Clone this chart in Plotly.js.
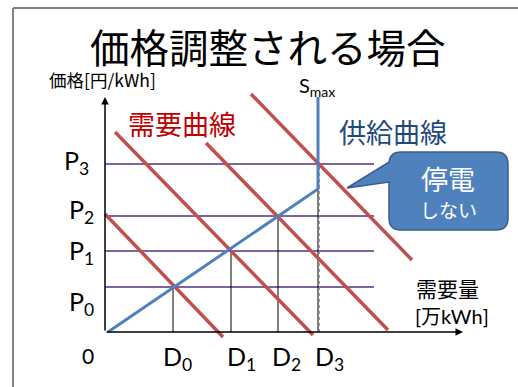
<!DOCTYPE html>
<html><head><meta charset="utf-8">
<script src="https://cdn.plot.ly/plotly-3.0.1.min.js"></script>
<style>html,body{margin:0;padding:0;background:#fff;}#chart{width:518px;height:387px;}</style>
</head><body><div id="chart"></div>
<script>
// ---- data ----
const demandQty = [6.8, 12.6, 17.3, 21.3];        // D0..D3
const prices = [4.5, 8.1, 11.6, 16.8];            // P0..P3
const qtyLabels = ['D<sub>0</sub>', 'D<sub>1</sub>', 'D<sub>2</sub>', 'D<sub>3</sub>'];
const priceLabels = ['P<sub>0</sub>', 'P<sub>1</sub>', 'P<sub>2</sub>', 'P<sub>3</sub>'];
const supplyX = [0.3, 21.3, 21.3];
const supplyY = [0, 14.3, 23.5];
const demandStartX = [0.0, 1.0, 10.1, 14.6];
const demandStartY = [11.8, 20.0, 18.9, 23.8];
const demandEndX = [11.8, 20.8, 28.3, 30.7];
const demandEndY = [-0.5, -0.3, 0.2, 7.2];
const priceLineEnd = 26.9;
const axisMaxX = 35.8;
const axisMaxY = 23.5;

// ---- helpers for text / decoration placement (pixel -> paper) ----
const W = 518, H = 387;
const fx = p => p / W;
const fy = p => 1 - p / H;
const FONT = "Lato, 'Noto Sans CJK JP', sans-serif";
const CJK = "'Noto Sans CJK JP', sans-serif";

const traces = [];
// price lines
prices.forEach(p => traces.push({x: [0, priceLineEnd], y: [p, p], mode: 'lines',
  line: {color: '#8064A2', width: 2}, hoverinfo: 'skip'}));
// drop lines
demandQty.forEach((d, i) => traces.push({x: [d, d], y: [0, prices[i]], mode: 'lines',
  line: {color: '#000', width: 1}, hoverinfo: 'skip'}));
traces.push({x: [demandQty[3] + 0.15, demandQty[3] + 0.15], y: [0, prices[3]], mode: 'lines',
  line: {color: '#999', width: 1, dash: 'dot'}, hoverinfo: 'skip'});
// demand curves
demandStartX.forEach((x0, i) => traces.push({x: [x0, demandEndX[i]], y: [demandStartY[i], demandEndY[i]],
  mode: 'lines', line: {color: '#C0504D', width: 3.5}, hoverinfo: 'skip'}));
// supply curve
traces.push({x: supplyX, y: supplyY, mode: 'lines', line: {color: '#4F81BD', width: 3}, hoverinfo: 'skip'});

const annotations = [];
// axes arrows
annotations.push({x: axisMaxX, y: 0, ax: 0, ay: 0, xref: 'x', yref: 'y', axref: 'x', ayref: 'y',
  text: '', showarrow: true, arrowhead: 2, arrowsize: 1, arrowwidth: 1.5, arrowcolor: '#000'});
annotations.push({x: 0, y: axisMaxY, ax: 0, ay: 0, xref: 'x', yref: 'y', axref: 'x', ayref: 'y',
  text: '', showarrow: true, arrowhead: 2, arrowsize: 1, arrowwidth: 1.5, arrowcolor: '#000'});

function txt(text, x, y, size, color, opts) {
  annotations.push(Object.assign({text: text, x: fx(x), y: fy(y), xref: 'paper', yref: 'paper',
    showarrow: false, font: {family: FONT, size: size, color: color || '#000'},
    xanchor: 'center', yanchor: 'middle'}, opts || {}));
}
// price labels
const pLabelPos = [[67, 303], [67, 252], [67, 211], [62, 162]];
priceLabels.forEach((t, i) => txt(t, pLabelPos[i][0], pLabelPos[i][1], 25, '#000', {xanchor: 'left'}));
// quantity labels
const dLabelPos = [161, 225, 270, 313];
qtyLabels.forEach((t, i) => txt(t, dLabelPos[i], 358, 25, '#000', {xanchor: 'left'}));
txt('0', 88, 355, 21, '#000');
// titles & text
txt('価格調整される場合', 268, 46, 39.5, '#000', {font: {family: CJK, size: 39.5, color: '#000'}});
txt('価格[円/kWh]', 47, 80, 17.5, '#000', {xanchor: 'left', font: {family: CJK, size: 17.5, color: '#000'}});
txt('S<sub>max</sub>', 297, 87, 20, '#000', {xanchor: 'left'});
txt('需要曲線', 182, 123, 27, '#C00000', {font: {family: CJK, size: 27, color: '#C00000'}});
txt('供給曲線', 393, 132, 27, '#1F497D', {font: {family: CJK, size: 27, color: '#1F497D'}});
txt('需要量', 414, 288, 21, '#000', {xanchor: 'left', font: {family: CJK, size: 21, color: '#000'}});
txt('[万kWh]', 413, 316, 20, '#000', {xanchor: 'left'});
txt('停電', 448, 178, 27, '#fff', {font: {family: CJK, size: 27, color: '#fff'}});
txt('しない', 448, 209, 19, '#fff', {font: {family: CJK, size: 19, color: '#fff'}});

// callout bubble path (pixels -> paper)
const L = 389, R = 508, T = 152, B = 230, r = 12;
const P = (x, y) => fx(x) + ',' + fy(y);
const bubble = 'M' + P(L + r, T) + ' L' + P(R - r, T) + ' Q' + P(R, T) + ' ' + P(R, T + r) +
  ' L' + P(R, B - r) + ' Q' + P(R, B) + ' ' + P(R - r, B) + ' L' + P(L + r, B) +
  ' Q' + P(L, B) + ' ' + P(L, B - r) + ' L' + P(L, 182) + ' L' + P(347, 188) + ' L' + P(L, 162) +
  ' L' + P(L, T + r) + ' Q' + P(L, T) + ' ' + P(L + r, T) + ' Z';

const shapes = [
  {type: 'line', xref: 'paper', yref: 'paper', x0: fx(13), x1: fx(13), y0: fy(8), y1: 0,
   line: {color: '#808080', width: 2}},
  {type: 'line', xref: 'paper', yref: 'paper', x0: fx(13), x1: 1, y0: fy(8), y1: fy(8),
   line: {color: '#808080', width: 2}},
  {type: 'path', xref: 'paper', yref: 'paper', path: bubble, fillcolor: '#4F81BD',
   line: {color: '#385D8A', width: 1.5}, layer: 'above'}
];

const layout = {
  width: W, height: H, margin: {l: 0, r: 0, t: 0, b: 0},
  paper_bgcolor: '#fff', plot_bgcolor: '#fff', showlegend: false,
  xaxis: {range: [-10.5, 41.3], visible: false, fixedrange: true},
  yaxis: {range: [-5.5, 33.2], visible: false, fixedrange: true},
  annotations: annotations, shapes: shapes
};
Plotly.newPlot('chart', traces, layout, {staticPlot: true, displayModeBar: false});
</script></body></html>
